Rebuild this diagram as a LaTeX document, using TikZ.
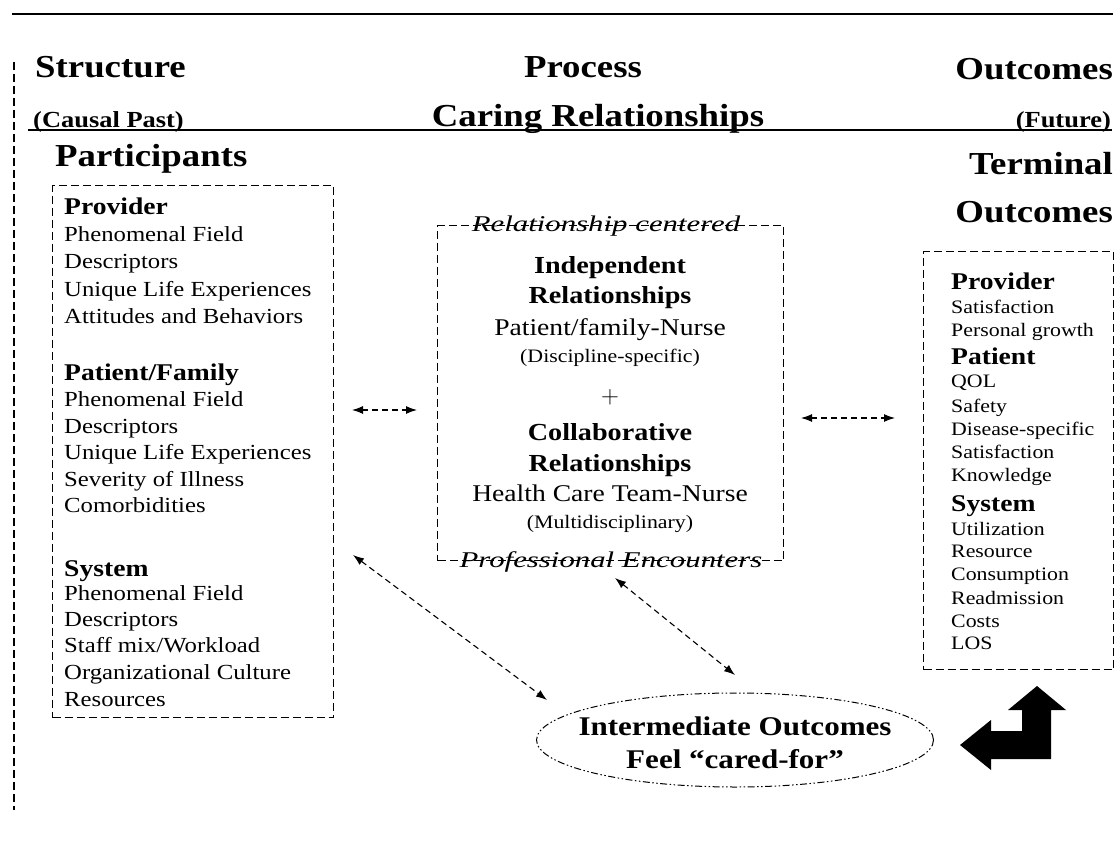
\documentclass[tikz,border=0pt]{standalone}
\usepackage{fontspec}
\setmainfont{Liberation Serif}[FakeStretch=1.15]
\newfontfamily\rimfont{Liberation Serif}[FakeStretch=1.37]
\usetikzlibrary{arrows.meta,shapes.geometric}

\tikzset{
  hdr/.style={font=\fontsize{32}{32}\selectfont\bfseries, inner sep=0pt},
  subhdr/.style={font=\fontsize{23}{23}\selectfont\bfseries, inner sep=0pt},
  boxhead/.style={font=\fontsize{24}{24}\selectfont\bfseries, anchor=base west, inner sep=0pt},
  leftitem/.style={font=\fontsize{21.5}{21.5}\selectfont, anchor=base west, inner sep=0pt},
  rightitem/.style={font=\fontsize{19}{19}\selectfont, anchor=base west, inner sep=0pt},
  midbold/.style={font=\fontsize{24.5}{24.5}\selectfont\bfseries, anchor=base, inner sep=0pt},
  midtext/.style={font=\fontsize{24}{24}\selectfont, anchor=base, inner sep=0pt},
  midsmall/.style={font=\fontsize{19}{19}\selectfont, anchor=base, inner sep=0pt},
  rimtext/.style={font=\fontsize{22.5}{22.5}\selectfont\rimfont\itshape, anchor=base, inner sep=0pt},
  dbox/.style={draw, line width=1.3pt, dash pattern=on 8pt off 4pt, anchor=north west, inner sep=0pt},
  link/.style={line width=1.1pt, dash pattern=on 6pt off 4pt,
    {Latex[length=11pt,width=8pt]}-{Latex[length=11pt,width=8pt]}},
}

\begin{document}
\begin{tikzpicture}[x=1pt,y=-1pt]
\useasboundingbox (0,0) rectangle (1118,850);

% rules and column titles
\draw[line width=1.6pt] (12,14) -- (1113,14);
\draw[line width=1.3pt, dash pattern=on 8pt off 4pt] (14,62) -- (14,810);
\node[hdr, anchor=base west] (structure) at (35,78) {Structure};
\node[hdr, anchor=base] (process) at (583,78) {Process};
\node[hdr, anchor=base east] (outcomes) at (1113,80) {Outcomes};
\node[subhdr, anchor=base west] (past) at (33,128) {(Causal Past)};
\node[hdr, anchor=base] (caring) at (598,127) {Caring Relationships};
\node[subhdr, anchor=base east] (future) at (1111,128) {(Future)};
\draw[line width=1.4pt] (28,130) -- (1112,130);
\node[hdr, anchor=base west] (partic) at (55,167) {Participants};
\node[hdr, anchor=base east] (terminal) at (1113,175) {Terminal};
\node[hdr, anchor=base east] (termout) at (1113,223) {Outcomes};

% the three boxes
\node[dbox, minimum width=281, minimum height=532] (partbox) at (52,185) {};
\node[dbox, minimum width=346, minimum height=335] (procbox) at (437,225) {};
\node[dbox, minimum width=190, minimum height=418] (outbox) at (923,251) {};

% participants
\node[boxhead] (provl) at (64,215) {Provider};
\foreach \yy/\txt [count=\i] in {242/Phenomenal Field, 269/Descriptors,
    296/Unique Life Experiences, 323/Attitudes and Behaviors}
  \node[leftitem] (provl\i) at (64,\yy) {\txt};
\node[boxhead] (patl) at (64,380) {Patient/Family};
\foreach \yy/\txt [count=\i] in {406/Phenomenal Field, 433/Descriptors,
    459/Unique Life Experiences, 486/Severity of Illness, 512/Comorbidities}
  \node[leftitem] (patl\i) at (64,\yy) {\txt};
\node[boxhead] (sysl) at (64,576) {System};
\foreach \yy/\txt [count=\i] in {600/Phenomenal Field, 626/Descriptors,
    652/{Staff mix/Workload}, 679/Organizational Culture, 706/Resources}
  \node[leftitem] (sysl\i) at (64,\yy) {\txt};

% process
\node[rimtext] (relcent) at (606,232) {Relationship centered};
\node[midbold] (indep) at (610,273) {Independent};
\node[midbold] (indeprel) at (610,303) {Relationships};
\node[midtext] (patnurse) at (610,335) {Patient/family-Nurse};
\node[midsmall] (discip) at (610,362) {(Discipline-specific)};
\node[anchor=base, inner sep=0pt, font=\fontsize{34}{34}\selectfont] (plus) at (610,403) {$+$};
\node[midbold] (collab) at (610,440) {Collaborative};
\node[midbold] (collabrel) at (610,471) {Relationships};
\node[midtext] (teamnurse) at (610,501) {Health Care Team-Nurse};
\node[midsmall] (multi) at (610,528) {(Multidisciplinary)};
\node[rimtext] (profenc) at (611,567) {Professional Encounters};

% terminal outcomes
\node[boxhead] (provr) at (951,289) {Provider};
\foreach \yy/\txt [count=\i] in {313/Satisfaction, 336/Personal growth}
  \node[rightitem] (provr\i) at (951,\yy) {\txt};
\node[boxhead] (patr) at (951,364) {Patient};
\foreach \yy/\txt [count=\i] in {387/QOL, 412/Safety, 435/Disease-specific,
    458/Satisfaction, 481/Knowledge}
  \node[rightitem] (patr\i) at (951,\yy) {\txt};
\node[boxhead] (sysr) at (951,511) {System};
\foreach \yy/\txt [count=\i] in {535/Utilization, 557/Resource, 580/Consumption,
    604/Readmission, 627/Costs, 649/LOS}
  \node[rightitem] (sysr\i) at (951,\yy) {\txt};

% intermediate outcomes
\node[ellipse, draw, line width=1pt,
  dash pattern=on 7pt off 2.5pt on 1.5pt off 2.5pt on 1.5pt off 2.5pt,
  minimum width=397, minimum height=94, inner sep=0pt] (interm) at (735,740) {};
\node[align=center, inner sep=0pt, font=\fontsize{27}{33}\selectfont\bfseries]
  (intermtxt) at (735,743) {Intermediate Outcomes\\Feel “cared-for”};

% links
\coordinate (partE) at (352,410);
\coordinate (procW) at (417,410);
\coordinate (procE) at (801,418);
\coordinate (outW) at (895,418);
\coordinate (partS) at (353,555);
\coordinate (intNW) at (547,700);
\coordinate (procS) at (615,578);
\coordinate (intN) at (735,675);
\draw[link] (partE) -- (procW);
\draw[link] (procE) -- (outW);
\draw[link] (partS) -- (intNW);
\draw[link] (procS) -- (intN);

% feedback arrow
\fill (1037,686) -- (1066,710) -- (1051,710) -- (1051,759) -- (991,759) -- (991,770)
  -- (960,745) -- (991,720) -- (991,731) -- (1022,731) -- (1022,710) -- (1008,710) -- cycle;
\end{tikzpicture}
\end{document}
